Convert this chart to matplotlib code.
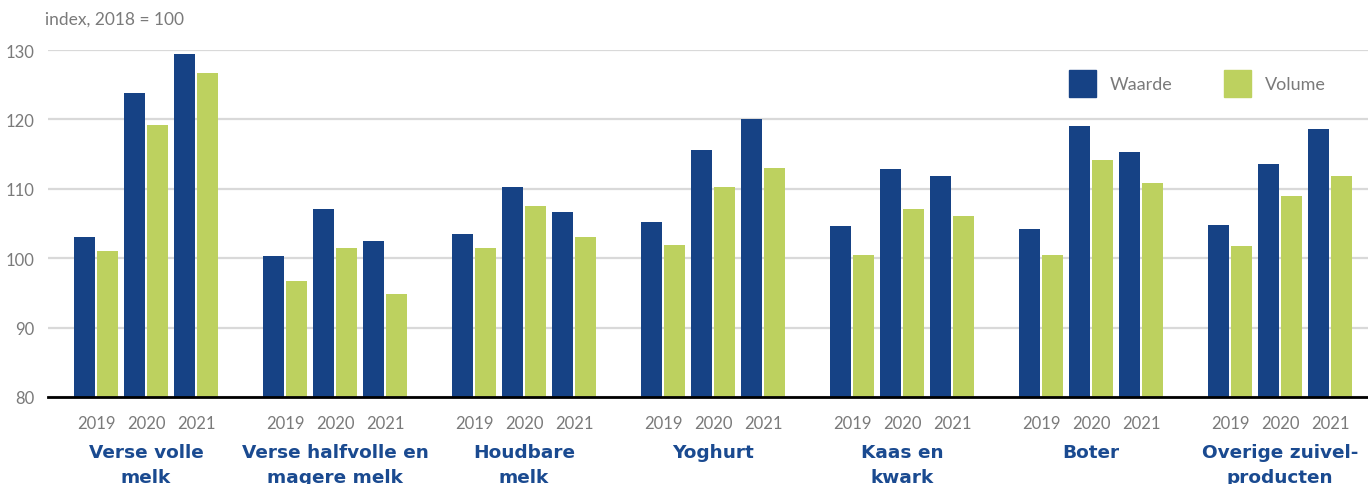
import matplotlib
matplotlib.use("Agg")
import matplotlib.pyplot as plt
from matplotlib.patches import Rectangle

categories = ["Verse volle\nmelk", "Verse halfvolle en\nmagere melk", "Houdbare\nmelk",
              "Yoghurt", "Kaas en\nkwark", "Boter", "Overige zuivel-\nproducten"]
years = ["2019", "2020", "2021"]

# index values per category, one row per category, columns = years
waarde = [
    [103.0, 123.8, 129.4],
    [100.3, 107.1, 102.5],
    [103.5, 110.3, 106.7],
    [105.2, 115.6, 120.1],
    [104.6, 112.9, 111.8],
    [104.2, 119.0, 115.3],
    [104.8, 113.6, 118.6],
]
volume = [
    [101.0, 119.2, 126.7],
    [96.7, 101.5, 94.8],
    [101.5, 107.5, 103.0],
    [101.9, 110.3, 113.0],
    [100.5, 107.1, 106.1],
    [100.5, 114.1, 110.8],
    [101.8, 109.0, 111.8],
]
series_names = ["Waarde", "Volume"]

BLUE = "#164285"
GREEN = "#bdd15f"
GRAY = "#7a7a7a"
LABEL_BLUE = "#1a4a90"

W, H = 1368, 485
fig = plt.figure(figsize=(W / 100, H / 100), dpi=100)
ax = fig.add_axes([48 / W, 87 / H, 1 - 48 / W, (398 - 51) / H])

group_pitch = 3.78
bar_w = 0.42
offset = 0.46
base = 80

for g in range(len(categories)):
    for j in range(len(years)):
        xw = g * group_pitch + j
        ax.bar(xw, waarde[g][j] - base, bottom=base, width=bar_w, color=BLUE, zorder=3)
        ax.bar(xw + offset, volume[g][j] - base, bottom=base, width=bar_w, color=GREEN, zorder=3)

ax.set_ylim(80, 130)
ax.set_xlim(-0.73, 25.67)
ax.set_yticks([80, 90, 100, 110, 120, 130])
ax.yaxis.grid(True, color="#d9d9d9", linewidth=1.6, zorder=0)
ax.set_axisbelow(True)
for s in ["top", "right", "left"]:
    ax.spines[s].set_visible(False)
ax.spines["bottom"].set_linewidth(2.0)
ax.spines["bottom"].set_color("black")
ax.spines["bottom"].set_zorder(4)
ax.tick_params(axis="y", length=0, pad=10, labelsize=12, labelcolor=GRAY)
for lbl in ax.get_yticklabels():
    lbl.set_fontfamily("Lato")

# year ticks under each bar pair
xt, xl = [], []
for g in range(len(categories)):
    for j in range(len(years)):
        xt.append(g * group_pitch + j + offset / 2)
        xl.append(years[j])
ax.set_xticks(xt)
ax.set_xticklabels(xl, fontfamily="Lato", fontsize=12, color=GRAY)
ax.tick_params(axis="x", length=0, pad=13)

# category names, one baseline per line
line_baselines = [458, 483]
for g, name in enumerate(categories):
    xc = g * group_pitch + 1 + offset / 2
    xf = fig.transFigure.inverted().transform(ax.transData.transform((xc, 100)))[0]
    for k, line in enumerate(name.split("\n")):
        fig.text(xf, 1 - line_baselines[k] / H, line, ha="center", va="baseline",
                 fontfamily="DejaVu Sans", fontweight="bold", fontsize=13.3,
                 color=LABEL_BLUE)

fig.text(45 / W, 1 - 20 / H, "index, 2018 = 100", fontfamily="Lato", fontsize=12.5,
         color=GRAY, va="center", ha="left")

# legend
for (x0, color, name) in [(1069, BLUE, series_names[0]), (1224, GREEN, series_names[1])]:
    fig.patches.append(Rectangle((x0 / W, 1 - 98 / H), 27 / W, 27 / H,
                                 transform=fig.transFigure, color=color))
    fig.text((x0 + 41) / W, 1 - 85 / H, name, fontfamily="Lato", fontsize=13,
             color=GRAY, va="center", ha="left")

fig.savefig("out.png", dpi=100)
